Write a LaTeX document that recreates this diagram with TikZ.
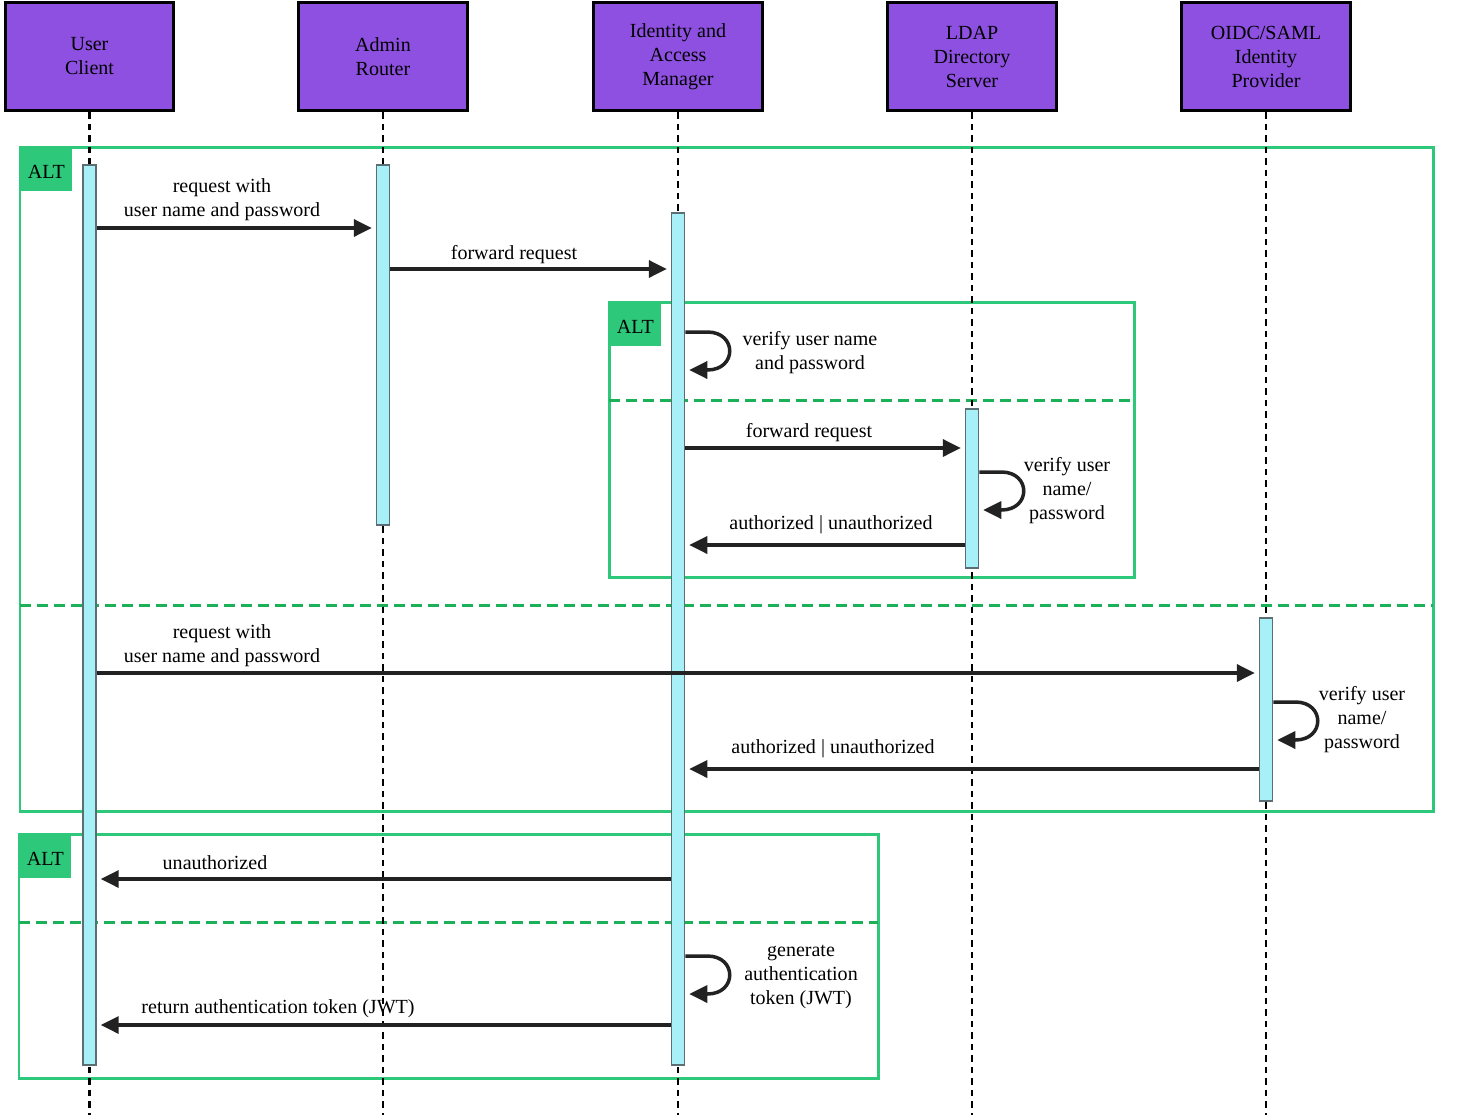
\documentclass[tikz,border=0pt]{standalone}
\usepackage{fontspec}
\setmainfont{Liberation Serif}
\usetikzlibrary{arrows.meta}
\definecolor{actorfill}{RGB}{142,80,225}
\definecolor{framegreen}{RGB}{46,200,122}
\definecolor{sepgreen}{RGB}{28,176,88}
\definecolor{barfill}{RGB}{168,240,248}
\definecolor{barline}{RGB}{90,110,115}
\definecolor{ink}{RGB}{34,34,34}
\begin{document}
\begin{tikzpicture}[x=0.02cm, y=-0.02cm,
		font=\fontsize{11.4}{13.66}\selectfont,
		actor/.style={draw=black, line width=0.06cm, fill=actorfill, minimum width=3.38cm, minimum height=2.18cm, align=center, inner sep=0pt},
		bar/.style={draw=barline, line width=0.03cm, fill=barfill, minimum width=0.26cm, inner sep=0pt},
		life/.style={line width=0.05cm, dash pattern=on 0.13cm off 0.1cm},
		altframe/.style={draw=framegreen, line width=0.06cm},
		altlabel/.style={fill=framegreen, minimum width=1.04cm, minimum height=0.88cm, text height=0.37cm, inner sep=0pt, anchor=north west},
		altsplit/.style={draw=sepgreen, line width=0.06cm, dash pattern=on 0.22cm off 0.12cm},
		msg/.style={draw=ink, line width=0.07cm, -{Triangle[length=0.36cm,width=0.34cm]}, shorten >=0.08cm},
		txt/.style={align=center, inner sep=0pt}]
		\useasboundingbox (0,0) rectangle (1459,1115);

		\node (uc)[actor] at (89.5,56.5)   {User\\Client};
		\node (ar)[actor] at (383,56.5)    {Admin\\Router};
		\node (iam)[actor] at (678,56.5)   {Identity and\\Access\\Manager};
		\node (ldap)[actor] at (972,56.5)  {LDAP\\Directory\\Server};
		\node (oidc)[actor] at (1266,56.5) {OIDC/SAML\\Identity\\Provider};

		\draw [altframe](20,147) rectangle (1433,811);
		\node (alt1)[altlabel] at (20,147) {ALT};
		\draw [altsplit](20,605) -- (1433,605);

		\draw [altframe](609,302) rectangle (1134,577);
		\node (alt2)[altlabel] at (609,302) {ALT};
		\draw [altsplit](609,400) -- (1134,400);

		\draw [altframe](19,834) rectangle (878,1078);
		\node (alt3)[altlabel] at (19,834) {ALT};
		\draw [altsplit](19,922) -- (878,922);

		\coordinate (bottom) at (0,1115);
		\draw [life](uc.south) -- (uc.south |- bottom);
		\draw [life](ar.south) -- (ar.south |- bottom);
		\draw [life](iam.south) -- (iam.south |- bottom);
		\draw [life](ldap.south) -- (ldap.south |- bottom);
		\draw [life](oidc.south) -- (oidc.south |- bottom);

		\node (ucbar)[bar, minimum height=18cm] at (89.5,615)       {};
		\node (arbar)[bar, minimum height=7.2cm] at (383,345)       {};
		\node (iambar)[bar, minimum height=17.04cm] at (678,639)    {};
		\node (ldapbar)[bar, minimum height=3.18cm] at (972,488.5)  {};
		\node (oidcbar)[bar, minimum height=3.66cm] at (1266,709.5) {};

		\coordinate (m1) at (0,228);
		\coordinate (m2) at (0,269);
		\coordinate (m3) at (0,332);
		\coordinate (m4) at (0,448);
		\coordinate (m5) at (0,472);
		\coordinate (m6) at (0,545);
		\coordinate (m7) at (0,673);
		\coordinate (m8) at (0,702);
		\coordinate (m9) at (0,769);
		\coordinate (m10) at (0,879);
		\coordinate (m11) at (0,956);
		\coordinate (m12) at (0,1025);

		\draw [msg](ucbar.east |- m1) -- (arbar.west |- m1);
		\draw [msg](arbar.east |- m2) -- (iambar.west |- m2);
		\draw [msg](iambar.east |- m3) -- ++(22,0) .. controls +(30,0) and +(30,0) .. ++(0,38) -- ++(-22,0);
		\draw [msg](iambar.east |- m4) -- (ldapbar.west |- m4);
		\draw [msg](ldapbar.east |- m5) -- ++(22,0) .. controls +(30,0) and +(30,0) .. ++(0,38) -- ++(-22,0);
		\draw [msg](ldapbar.west |- m6) -- (iambar.east |- m6);
		\draw [msg](ucbar.east |- m7) -- (oidcbar.west |- m7);
		\draw [msg](oidcbar.east |- m8) -- ++(22,0) .. controls +(30,0) and +(30,0) .. ++(0,38) -- ++(-22,0);
		\draw [msg](oidcbar.west |- m9) -- (iambar.east |- m9);
		\draw [msg](iambar.west |- m10) -- (ucbar.east |- m10);
		\draw [msg](iambar.east |- m11) -- ++(22,0) .. controls +(30,0) and +(30,0) .. ++(0,38) -- ++(-22,0);
		\draw [msg](iambar.west |- m12) -- (ucbar.east |- m12);

		\node (t1)[txt] at (222,200)   {request with\\user name and password};
		\node (t2)[txt] at (514,255)   {forward request};
		\node (t3)[txt] at (810,353)   {verify user name\\and password};
		\node (t4)[txt] at (809,433)   {forward request};
		\node (t5)[txt] at (1067,491)  {verify user\\name/\\password};
		\node (t6)[txt] at (831,525)   {authorized | unauthorized};
		\node (t7)[txt] at (222,646)   {request with\\user name and password};
		\node (t8)[txt] at (1362,720)  {verify user\\name/\\password};
		\node (t9)[txt] at (833,749)   {authorized | unauthorized};
		\node (t10)[txt] at (215,863)  {unauthorized};
		\node (t11)[txt] at (801,977)  {generate\\authentication\\token (JWT)};
		\node (t12)[txt] at (278,1009) {return authentication token (JWT)};
	\end{tikzpicture}
\end{document}
